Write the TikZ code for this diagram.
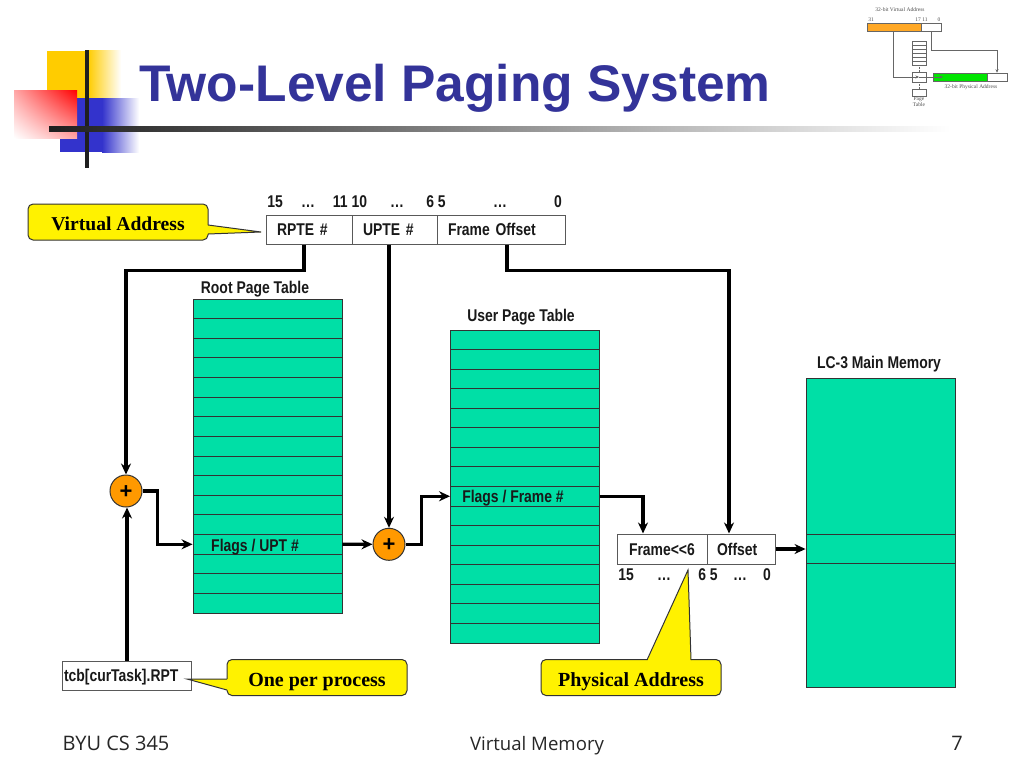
\documentclass[tikz,border=0pt]{standalone}
\usepackage{fontspec}
\setmainfont{Liberation Sans}
\newfontfamily\narrowfont[FakeStretch=0.82]{Liberation Sans}
\newfontfamily\calloutfont{Liberation Serif}
\newfontfamily\footfont{Open Sans}
\usetikzlibrary{arrows.meta,shadings}
\definecolor{titleblue}{HTML}{333399}
\definecolor{tablegreen}{HTML}{00DFA6}
\definecolor{logoyellow}{HTML}{FFCC00}
\definecolor{logoblue}{HTML}{3333CC}
\definecolor{plusorange}{HTML}{FF9900}
\tikzstyle{arrow} = [line width=3.3pt,->,>={Stealth[length=11pt,width=10pt]}]
\tikzstyle{textlabel} = [inner sep=0pt,yshift=-1.2pt,text height=12pt,text depth=3pt,font=\narrowfont\bfseries\fontsize{17}{17}\selectfont,text=black!90]
\tikzstyle{cell} = [draw=black!80,fill=tablegreen,line width=0.9pt,minimum width=149pt,minimum height=19.6pt,inner sep=0pt]
\tikzstyle{addrbox} = [draw=black!65,fill=white,line width=1pt,minimum height=29pt,inner sep=0pt,align=left,text height=12pt,text depth=0pt,font=\narrowfont\bfseries\fontsize{17}{17}\selectfont,text=black!90]
\tikzstyle{callout} = [draw=black!80,fill=yellow,line width=1pt,rounded corners=5pt,minimum height=36pt,minimum width=180pt,inner sep=0pt,text height=17pt,text depth=0pt,font=\calloutfont\bfseries\fontsize{20}{20}\selectfont]
\tikzstyle{pointer} = [fill=yellow]
\tikzstyle{pointeredge} = [draw=black!80,line width=1pt]
\tikzstyle{adder} = [circle,draw=black!80,fill=plusorange,line width=1pt,minimum size=32pt,inner sep=0pt,text height=15pt,text depth=0pt,font=\bfseries\fontsize{22}{22}\selectfont]
\tikzstyle{foot} = [inner sep=0pt,text height=14pt,text depth=0pt,font=\footfont\fontsize{20}{20}\selectfont,text=black!85]
\tikzstyle{smalltext} = [inner sep=0pt,font=\calloutfont\fontsize{5.5}{6}\selectfont,text=black!70,align=center]
\tikzstyle{thumb} = [draw=black!60,line width=0.5pt,inner sep=0pt]
\tikzstyle{thumbarrow} = [draw=black!60,line width=0.5pt,->,>={Stealth[length=3.5pt,width=3pt]}]
\begin{document}
\begin{tikzpicture}[x=1pt,y=-1pt]
  \useasboundingbox (0,0) rectangle (1024,768);
  % logo
  \fill[logoyellow] (47,51) rectangle (88,98);
  \shade[left color=logoyellow,right color=white] (88,51) rectangle (121,98);
  \fill[logoblue] (60,98) rectangle (102,152);
  \shade[left color=logoblue,right color=white] (102,98) rectangle (139,152);
  \shade[shading=bilinear interpolation,upper right=red,upper left=red!35!white,lower right=red!35!white,lower left=white] (14,90) rectangle (77,138);
  \fill[black!88] (85,50) rectangle (89,168);
  \shade[left color=black!88,right color=white] (49,126.5) rectangle (950,131.5);
  \node[anchor=west,inner sep=0pt,text=titleblue,font=\bfseries\fontsize{51.5}{52}\selectfont] (title) at (139,88) {Two-Level Paging System};
  % small picture, top right
  \node[smalltext] (tva) at (900,10) {32-bit Virtual Address};
  \node[smalltext] at (871,20) {31};
  \node[smalltext] at (918,20) {17};
  \node[smalltext] at (925,20) {11};
  \node[smalltext] at (939,20) {0};
  \node[thumb,fill=plusorange!85,minimum width=54pt,minimum height=8pt] (tvpn) at (894,27) {};
  \node[thumb,fill=white,minimum width=20pt,minimum height=8pt] (toff) at (931,27) {};
  \foreach \i in {1,...,6}
    \node[thumb,fill=white,minimum width=14pt,minimum height=4pt] (trow\i) at (919,{39+4*\i}) {};
  \node[thumb,fill=white,minimum width=14pt,minimum height=10pt] (tsel) at (919,77) {};
  \node[thumb,fill=white,minimum width=14pt,minimum height=7pt] (tlast) at (919,92.5) {};
  \draw[black!60,densely dotted,line width=0.5pt] (trow6) -- (tsel);
  \draw[black!60,densely dotted,line width=0.5pt] (tsel) -- (tlast);
  \node[thumb,fill=green!90!black,minimum width=54pt,minimum height=8pt] (tppn) at (960,77) {};
  \node[thumb,fill=white,minimum width=20pt,minimum height=8pt] (tpoff) at (997,77) {};
  \node[smalltext] at (971,87) {32-bit Physical Address};
  \node[smalltext] at (919,102) {Page\\Table};
  \draw[thumbarrow] (tvpn.south) ++(-1,0) |- (tsel.center);
  \draw[thumbarrow] (tsel.center) -- ++(24,0);
  \draw[thumbarrow] (toff.south) -- ++(0,19) -| (tpoff.north);
  % virtual address
  \node[addrbox,minimum width=86pt,text width=64pt,inner xsep=11pt] (rpte) at (309,229.5) {RPTE \#};
  \node[addrbox,minimum width=85pt,text width=63pt,inner xsep=11pt] (upte) at (394.5,229.5) {UPTE \#};
  \node[addrbox,minimum width=128pt,text width=106pt,inner xsep=11pt] (foff) at (501,229.5) {Frame Offset};
  \node[textlabel] at (275,202) {15};
  \node[textlabel] at (308,202) {…};
  \node[textlabel] at (350,202) {11 10};
  \node[textlabel] at (397,202) {…};
  \node[textlabel] at (436,202) {6 5};
  \node[textlabel] at (500,202) {…};
  \node[textlabel] at (558,202) {0};
  % root page table
  \node[textlabel] (rootname) at (255,288) {Root Page Table};
  \foreach \i in {1,...,16}
    \node[cell] (root\i) at (267.5,{299+19.625*(\i-0.5)}) {};
  \node[textlabel] (upt) at (255,546) {Flags / UPT \#};
  % user page table
  \node[textlabel] (username) at (521,316) {User Page Table};
  \foreach \i in {1,...,16}
    \node[cell] (user\i) at (525,{330+19.56*(\i-0.5)}) {};
  \node[textlabel] (frame) at (513,497) {Flags / Frame \#};
  % main memory
  \node[textlabel] (memname) at (879,363) {LC-3 Main Memory};
  \node[cell,minimum height=309pt] (mem) at (880.5,532.5) {};
  \node[cell,minimum height=29pt] (memrow) at (880.5,549) {};
  % physical address
  \node[addrbox,minimum width=90pt,text width=66pt,inner xsep=12pt,minimum height=30pt] (pframe) at (662,549) {Frame<<6};
  \node[addrbox,minimum width=68pt,text width=48pt,inner xsep=10pt,minimum height=30pt] (poff) at (741,549) {Offset};
  \node[textlabel] at (626,575) {15};
  \node[textlabel] at (664,575) {…};
  \node[textlabel] at (708,575) {6 5};
  \node[textlabel] at (740,575) {…};
  \node[textlabel] at (767,575) {0};
  % adders
  \node[adder] (plusa) at (126,491) {+};
  \node[adder] (plusb) at (389,544.3) {+};
  \node[addrbox,minimum width=129pt,text width=125pt,inner xsep=2pt] (tcb) at (126.5,675.5) {tcb[curTask].RPT};
  % connectors
  \draw[arrow] ([xshift=-5pt]rpte.south) -- ++(0,26) -| (plusa.north);
  \draw[arrow] ([xshift=0.5pt]tcb.north) -- ([xshift=1pt]plusa.south);
  \draw[arrow] (plusa.east) -- ++(15,0) |- (root13.west);
  \draw[arrow] (root13.east) -- (plusb.west);
  \draw[arrow] (plusb.north |- upte.south) -- (plusb.north);
  \draw[arrow] (plusb.east) -- ++(16,0) |- (user9.west);
  \draw[arrow] (user9.east) -| ([xshift=-19pt]pframe.north);
  \draw[arrow] ([xshift=6pt]foff.south) -- ++(0,26) -| ([xshift=-12pt]poff.north);
  \draw[arrow] (poff.east) -- (memrow.west);
  % callouts
  \node[callout,font=\calloutfont\bfseries\fontsize{19.6}{20}\selectfont] (vacall) at (118,222) {Virtual Address};
  \coordinate (vatip) at (261,232);
  \fill[pointer] (207,225) -- (vatip) -- (207,234) -- cycle;
  \draw[pointeredge] (208,225) -- (vatip) -- (208,234);
  \node[callout] (onecall) at (317,677.5) {One per process};
  \coordinate (onetip) at (187,679);
  \fill[pointer] (228,679) -- (onetip) -- (228,690) -- cycle;
  \draw[pointeredge] (227,679) -- (onetip) -- (227,690);
  \node[callout] (physcall) at (631,677.5) {Physical Address};
  \coordinate (phystip) at (688,570);
  \fill[pointer] (647,661) -- (phystip) -- (691,661) -- cycle;
  \draw[pointeredge] (647,660) -- (phystip) -- (691,660);
  % footer
  \node[foot] (footl) at (116,743) {BYU CS 345};
  \node[foot,font=\footfont\fontsize{18.6}{19}\selectfont] (footm) at (537,743) {Virtual Memory};
  \node[foot] (footr) at (957,743) {7};
\end{tikzpicture}
\end{document}
